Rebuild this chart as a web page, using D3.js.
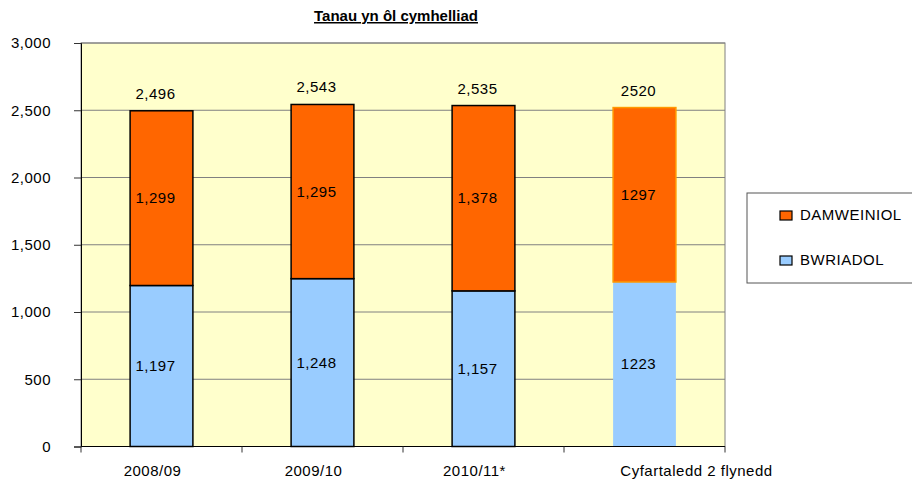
<!DOCTYPE html>
<html>
<head>
<meta charset="utf-8">
<script src="https://cdn.jsdelivr.net/npm/d3@7"></script>
<style>
  body { margin: 0; background: #fff; }
  text { font-family: "Liberation Sans", Arial, sans-serif; }
</style>
</head>
<body>
<div id="chart"></div>
<script>
var categories = ["2008/09", "2009/10", "2010/11*", "Cyfartaledd 2 flynedd"];
var bwriadol = [1197, 1248, 1157, 1223];     // deliberate
var damweiniol = [1299, 1295, 1378, 1297];   // accidental
var totals = [2496, 2543, 2535, 2520];
var yTicks = [0, 500, 1000, 1500, 2000, 2500, 3000];
var seriesNames = ["DAMWEINIOL", "BWRIADOL"];

var _width = 912, _height = 481;
var _fontSize = 15;
var plotLeft = 81, plotRight = 725, plotTop = 43, plotBottom = 446.5;

var svg = d3.select("#chart").append("svg")
    .attr("width", _width)
    .attr("height", _height);

var x = d3.scaleBand().domain(categories).range([plotLeft, plotRight]).paddingInner(0).paddingOuter(0);
var y = d3.scaleLinear().domain([0, 3000]).range([plotBottom, plotTop]);
var barW = x.bandwidth() * 0.39;

// plot background
svg.append("rect")
    .attr("x", plotLeft).attr("y", plotTop)
    .attr("width", plotRight - plotLeft).attr("height", plotBottom - plotTop)
    .attr("fill", "#ffffcc")
    .attr("stroke", "#808080");

// gridlines
svg.selectAll("line.grid")
    .data(yTicks.filter(function(d) { return d > 0; }))
    .enter().append("line")
    .attr("class", "grid")
    .attr("x1", plotLeft).attr("x2", plotRight)
    .attr("y1", function(d) { return y(d); })
    .attr("y2", function(d) { return y(d); })
    .attr("stroke", "#808080");

var isAvg = function(i) { return i === categories.length - 1; };
var fmt = d3.format(",");
var label = function(v, i) { return isAvg(i) ? String(v) : fmt(v); };

// bars
var bars = svg.selectAll("g.bar")
    .data(categories)
    .enter().append("g")
    .attr("class", "bar");

bars.append("rect")
    .attr("x", function(d) { return x(d) + (x.bandwidth() - barW) / 2; })
    .attr("y", function(d, i) { return y(bwriadol[i]); })
    .attr("width", barW)
    .attr("height", function(d, i) { return y(0) - y(bwriadol[i]); })
    .attr("fill", "#99ccff")
    .attr("stroke", function(d, i) { return isAvg(i) ? "none" : "#000"; })
    .attr("stroke-width", 1.5);

bars.append("rect")
    .attr("x", function(d) { return x(d) + (x.bandwidth() - barW) / 2; })
    .attr("y", function(d, i) { return y(bwriadol[i] + damweiniol[i]); })
    .attr("width", barW)
    .attr("height", function(d, i) { return y(bwriadol[i]) - y(bwriadol[i] + damweiniol[i]); })
    .attr("fill", "#ff6600")
    .attr("stroke", function(d, i) { return isAvg(i) ? "#ff9900" : "#000"; })
    .attr("stroke-width", 1.5);

var labelX = function(d) { return x(d) + x.bandwidth() / 2 - 6; };

bars.append("text")
    .attr("x", labelX)
    .attr("y", function(d, i) { return (y(0) + y(bwriadol[i])) / 2 + 5; })
    .attr("text-anchor", "middle")
    .style("font-size", _fontSize + "px")
    .style("letter-spacing", "0.5px")
    .text(function(d, i) { return label(bwriadol[i], i); });

bars.append("text")
    .attr("x", labelX)
    .attr("y", function(d, i) { return (y(bwriadol[i]) + y(bwriadol[i] + damweiniol[i])) / 2 + 5; })
    .attr("text-anchor", "middle")
    .style("font-size", _fontSize + "px")
    .style("letter-spacing", "0.5px")
    .text(function(d, i) { return label(damweiniol[i], i); });

bars.append("text")
    .attr("x", labelX)
    .attr("y", function(d, i) { return y(totals[i]) - 12; })
    .attr("text-anchor", "middle")
    .style("font-size", _fontSize + "px")
    .style("letter-spacing", "0.5px")
    .text(function(d, i) { return label(totals[i], i); });

// y axis
var yAxis = svg.append("g")
    .attr("transform", "translate(" + plotLeft + ",0)")
    .call(d3.axisLeft(y).tickValues(yTicks).tickFormat(fmt).tickSize(7).tickPadding(23));
yAxis.select(".domain").attr("stroke", "#000");
yAxis.selectAll(".tick line").attr("stroke", "#333");
yAxis.selectAll(".tick text")
    .attr("fill", "#000")
    .style("font-size", _fontSize + "px")
    .style("letter-spacing", "0.5px")
    .style("font-family", "'Liberation Sans', Arial, sans-serif");

// x axis with ticks on category boundaries
svg.append("line")
    .attr("x1", plotLeft).attr("x2", plotRight)
    .attr("y1", plotBottom).attr("y2", plotBottom)
    .attr("stroke", "#000");

var edges = categories.map(function(d) { return x(d); }).concat([plotRight]);
svg.selectAll("line.xtick")
    .data(edges)
    .enter().append("line")
    .attr("class", "xtick")
    .attr("x1", function(d) { return d; }).attr("x2", function(d) { return d; })
    .attr("y1", plotBottom).attr("y2", plotBottom + 6)
    .attr("stroke", "#333");

svg.selectAll("text.xlabel")
    .data(categories)
    .enter().append("text")
    .attr("class", "xlabel")
    .attr("x", function(d, i) { return x(d) + x.bandwidth() / 2 + (isAvg(i) ? 52 : -9); })
    .attr("y", plotBottom + 29)
    .attr("text-anchor", "middle")
    .style("font-size", _fontSize + "px")
    .style("letter-spacing", "0.5px")
    .text(function(d) { return d; });

// title
svg.append("text")
    .attr("x", 396)
    .attr("y", 21)
    .attr("text-anchor", "middle")
    .style("font-size", _fontSize + "px")
    .style("font-weight", "bold")
    .style("text-decoration", "underline")
    .text("Tanau yn ôl cymhelliad");

// legend
var legend = svg.append("g").attr("transform", "translate(747,193)");
legend.append("rect")
    .attr("x", 0).attr("y", 0)
    .attr("width", 180).attr("height", 90)
    .attr("fill", "#fff")
    .attr("stroke", "#555");

var legendColors = ["#ff6600", "#99ccff"];
var items = legend.selectAll("g.item")
    .data(seriesNames)
    .enter().append("g")
    .attr("class", "item")
    .attr("transform", function(d, i) { return "translate(33," + (18 + i * 45) + ")"; });

items.append("rect")
    .attr("width", 12).attr("height", 9)
    .attr("fill", function(d, i) { return legendColors[i]; })
    .attr("stroke", "#000")
    .attr("stroke-width", 1.2);

items.append("text")
    .attr("x", 20)
    .attr("y", 9)
    .style("font-size", _fontSize + "px")
    .style("letter-spacing", "0.5px")
    .text(function(d) { return d; });
</script>
</body>
</html>
